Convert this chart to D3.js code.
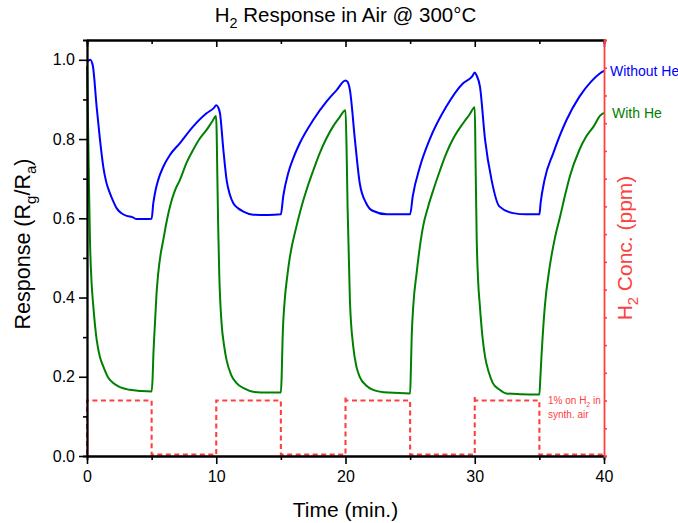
<!DOCTYPE html>
<html>
<head>
<meta charset="utf-8">
<script src="https://cdn.jsdelivr.net/npm/d3@7"></script>
<style>
    body { margin: 0; background: #fff; }
    text { font-family: 'Liberation Sans', Arial, sans-serif; }
</style>
</head>
<body>
<script>
// [time (min.), response Rg/Ra]
const withoutHe = [
    [0, 0.995], [0.25, 1.0], [0.45, 0.985], [0.75, 0.88], [1.0, 0.8], [1.26, 0.73], [1.5, 0.69],
    [1.78, 0.663], [2.0, 0.645], [2.3, 0.625], [2.7, 0.612], [3.07, 0.606], [3.5, 0.603], [3.84, 0.598],
    [4.5, 0.598], [5.0, 0.599],
    [5.13, 0.638], [5.3, 0.67], [5.51, 0.697], [5.9, 0.73], [6.42, 0.76], [7.19, 0.79], [8.22, 0.832],
    [9.25, 0.865], [9.8, 0.878], [10.0, 0.885],
    [10.15, 0.88], [10.29, 0.865], [10.55, 0.773], [10.8, 0.697], [11.05, 0.66], [11.32, 0.638],
    [11.7, 0.625], [12.1, 0.617], [12.86, 0.609], [14.0, 0.608], [15.0, 0.61],
    [15.18, 0.655], [15.57, 0.714], [16.0, 0.755], [16.47, 0.79], [17.5, 0.848], [18.54, 0.895],
    [19.3, 0.923], [20.0, 0.948],
    [20.15, 0.945], [20.34, 0.924], [20.73, 0.798], [21.1, 0.689], [21.6, 0.638], [22.1, 0.619],
    [23.2, 0.61], [25.0, 0.61],
    [25.2, 0.655], [25.76, 0.73], [26.5, 0.798], [27.8, 0.882], [29.1, 0.941], [29.8, 0.958], [30.0, 0.968],
    [30.15, 0.96], [30.4, 0.933], [30.8, 0.798], [31.3, 0.697], [31.9, 0.63], [32.97, 0.613],
    [34.0, 0.61], [35.0, 0.61],
    [35.1, 0.64], [35.4, 0.697], [36.07, 0.764], [37.1, 0.848], [38.1, 0.907], [39.0, 0.945],
    [39.7, 0.966], [40.0, 0.972]
]

const withHe = [
    [0, 0.985], [0.05, 0.9], [0.1, 0.8], [0.16, 0.67], [0.23, 0.545], [0.35, 0.44], [0.49, 0.377],
    [0.75, 0.293], [1.0, 0.25], [1.26, 0.226], [1.6, 0.2], [2.03, 0.184], [2.6, 0.173], [3.3, 0.167],
    [4.2, 0.164], [5.0, 0.163],
    [5.08, 0.2], [5.13, 0.25], [5.2, 0.3], [5.26, 0.336], [5.38, 0.41], [5.51, 0.461], [5.7, 0.51],
    [5.9, 0.545], [6.15, 0.59], [6.42, 0.63], [6.8, 0.67], [7.19, 0.697], [7.7, 0.74], [8.22, 0.773],
    [8.7, 0.8], [9.25, 0.823], [9.7, 0.845], [9.98, 0.858],
    [10.03, 0.82], [10.08, 0.714], [10.15, 0.58], [10.23, 0.462], [10.41, 0.336], [10.6, 0.28],
    [10.8, 0.242], [11.15, 0.205], [11.57, 0.184], [12.2, 0.17], [12.86, 0.162], [14.0, 0.16], [15.0, 0.16],
    [15.06, 0.2], [15.13, 0.293], [15.3, 0.394], [15.5, 0.455], [15.7, 0.503], [16.2, 0.579],
    [16.6, 0.63], [16.99, 0.672], [17.5, 0.72], [18.0, 0.764], [18.5, 0.8], [19.04, 0.832],
    [19.5, 0.853], [20.0, 0.873],
    [20.08, 0.78], [20.16, 0.63], [20.34, 0.394], [20.6, 0.276], [20.85, 0.225], [21.1, 0.2],
    [21.6, 0.178], [22.14, 0.167], [23.3, 0.16], [25.0, 0.158],
    [25.06, 0.22], [25.12, 0.3], [25.24, 0.377], [25.5, 0.461], [26.0, 0.579], [26.4, 0.63],
    [26.8, 0.672], [27.3, 0.72], [27.8, 0.764], [28.4, 0.805], [29.1, 0.84], [29.6, 0.862], [30.0, 0.88],
    [30.06, 0.75], [30.15, 0.55], [30.25, 0.45], [30.4, 0.377], [30.6, 0.3], [30.8, 0.25], [31.1, 0.21],
    [31.4, 0.184], [31.9, 0.168], [32.45, 0.158], [33.5, 0.156], [35.0, 0.155],
    [35.08, 0.2], [35.16, 0.25], [35.42, 0.377], [35.8, 0.478], [36.2, 0.55], [36.6, 0.604],
    [37.0, 0.66], [37.35, 0.705], [38.1, 0.773], [38.6, 0.805], [39.2, 0.832], [39.7, 0.859], [40.0, 0.866]
]

// [time (min.), H2 conc. (ppm)] gas pulses
const h2Conc = [
    [0, 250], [0, 10000], [5, 10000], [5, 250], [10, 250], [10, 10000], [15, 10000], [15, 250],
    [20, 250], [20, 10800], [20.02, 10000], [25, 10000], [25, 250], [30, 250], [30, 10800], [30.02, 10000],
    [35, 10000], [35, 250], [40, 250]
]

const xTicks = [0, 10, 20, 30, 40]
const xMinorTicks = [5, 15, 25, 35]
const yTicks = [0, 0.2, 0.4, 0.6, 0.8, 1.0]
const yMinorTicks = [0.1, 0.3, 0.5, 0.7, 0.9]
const concTicks = [0, 5000, 10000, 15000, 20000, 25000, 30000, 35000, 40000, 45000,
    50000, 55000, 60000, 65000, 70000, 75000]

const red = '#ff4040'
const font = "'Liberation Sans', Arial, sans-serif"

const margin = { top: 40, right: 74, bottom: 67, left: 87 }
const width = 678 - margin.left - margin.right
const height = 523 - margin.top - margin.bottom

const svg = d3.select('body').append('svg')
    .attr('width', width + margin.left + margin.right)
    .attr('height', height + margin.top + margin.bottom)

const g = svg.append('g')
    .attr('transform', `translate(${margin.left}, ${margin.top})`)

const xScale = d3.scaleLinear().domain([0, 40]).range([0, width])
const yScale = d3.scaleLinear().domain([0, 1.05]).range([height, 0])
const concScale = d3.scaleLinear().domain([0, 75000]).range([height, 0])

// text with subscripts: parts = [[string, isSub], ...]
function richText(sel, parts, size) {
    parts.forEach(([s, sub], i) => {
        const prevSub = i > 0 && parts[i - 1][1]
        let dy = 0
        if (sub && !prevSub) dy = size * 0.3
        if (!sub && prevSub) dy = -size * 0.3
        sel.append('tspan')
            .attr('dy', dy)
            .attr('font-size', sub ? size * 0.7 : size)
            .text(s)
    })
}

function styleAxis(sel, color) {
    sel.attr('font-family', font).attr('font-size', 16)
    sel.select('.domain').attr('stroke', color).attr('stroke-width', 1.8)
    sel.selectAll('.tick line').attr('stroke', color).attr('stroke-width', 1.6)
    sel.selectAll('.tick text').attr('fill', '#000')
}

// H2 pulses
const lineLinear = d3.line()
    .x(d => xScale(d[0]))
    .y(d => concScale(d[1]))

g.append('path')
    .datum(h2Conc)
    .attr('fill', 'none')
    .attr('stroke', red)
    .attr('stroke-width', 2.1)
    .attr('stroke-dasharray', '5,3.5')
    .attr('d', lineLinear)

const respLine = d3.line()
    .x(d => xScale(d[0]))
    .y(d => yScale(d[1]))
    .curve(d3.curveMonotoneX)

g.append('path')
    .datum(withHe)
    .attr('fill', 'none')
    .attr('stroke', '#008000')
    .attr('stroke-width', 2)
    .attr('d', respLine)

g.append('path')
    .datum(withoutHe)
    .attr('fill', 'none')
    .attr('stroke', '#0000ff')
    .attr('stroke-width', 2)
    .attr('d', respLine)

// bottom axis
g.append('g')
    .attr('transform', `translate(0, ${height})`)
    .call(d3.axisBottom(xScale).tickValues(xMinorTicks).tickSize(4).tickFormat(''))
    .call(sel => styleAxis(sel, '#000'))
g.append('g')
    .attr('transform', `translate(0, ${height})`)
    .call(d3.axisBottom(xScale).tickValues(xTicks).tickSizeInner(8).tickSizeOuter(0)
        .tickPadding(7).tickFormat(d3.format('d')))
    .call(sel => styleAxis(sel, '#000'))

// top axis, ticks pointing in
g.append('g')
    .call(d3.axisBottom(xScale).tickValues(xMinorTicks).tickSize(4).tickFormat(''))
    .call(sel => styleAxis(sel, '#000'))
g.append('g')
    .call(d3.axisBottom(xScale).tickValues(xTicks).tickSizeInner(7).tickSizeOuter(0).tickFormat(''))
    .call(sel => styleAxis(sel, '#000'))

// left axis
g.append('g')
    .call(d3.axisLeft(yScale).tickValues(yMinorTicks).tickSize(4).tickFormat(''))
    .call(sel => styleAxis(sel, '#000'))
g.append('g')
    .call(d3.axisLeft(yScale).tickValues(yTicks).tickSizeInner(8).tickSizeOuter(0)
        .tickPadding(4).tickFormat(d3.format('.1f')))
    .call(sel => styleAxis(sel, '#000'))

// right axis, H2 conc.
g.append('g')
    .attr('transform', `translate(${width}, 0)`)
    .call(d3.axisRight(concScale).tickValues(concTicks).tickSize(3).tickFormat(''))
    .call(sel => styleAxis(sel, red))

// title
svg.append('text')
    .attr('x', margin.left + width / 2)
    .attr('y', 22)
    .attr('text-anchor', 'middle')
    .call(sel => richText(sel, [['H', false], ['2', true], [' Response in Air @ 300°C', false]], 20.5))

svg.append('text')
    .attr('x', margin.left + width / 2)
    .attr('y', 517)
    .attr('text-anchor', 'middle')
    .attr('font-size', 21)
    .text('Time (min.)')

svg.append('text')
    .attr('transform', `translate(30, ${margin.top + height / 2 - 4}) rotate(-90)`)
    .attr('text-anchor', 'middle')
    .call(sel => richText(sel, [['Response (R', false], ['g', true], ['/R', false], ['a', true], [')', false]], 21.5))

svg.append('text')
    .attr('transform', `translate(632, ${margin.top + height / 2}) rotate(-90)`)
    .attr('text-anchor', 'middle')
    .attr('fill', red)
    .call(sel => richText(sel, [['H', false], ['2', true], [' Conc. (ppm)', false]], 21))

// series labels
svg.append('text')
    .attr('x', 610)
    .attr('y', 76)
    .attr('font-size', 14)
    .attr('fill', '#0000ff')
    .text('Without He')

svg.append('text')
    .attr('x', 612)
    .attr('y', 118)
    .attr('font-size', 14)
    .attr('fill', '#008000')
    .text('With He')

// gas annotation
svg.append('text')
    .attr('x', 548)
    .attr('y', 404)
    .attr('fill', red)
    .call(sel => richText(sel, [['1% on H', false], ['2', true], [' in', false]], 10))
svg.append('text')
    .attr('x', 548)
    .attr('y', 418)
    .attr('font-size', 10)
    .attr('fill', red)
    .text('synth. air')
</script>
</body>
</html>
